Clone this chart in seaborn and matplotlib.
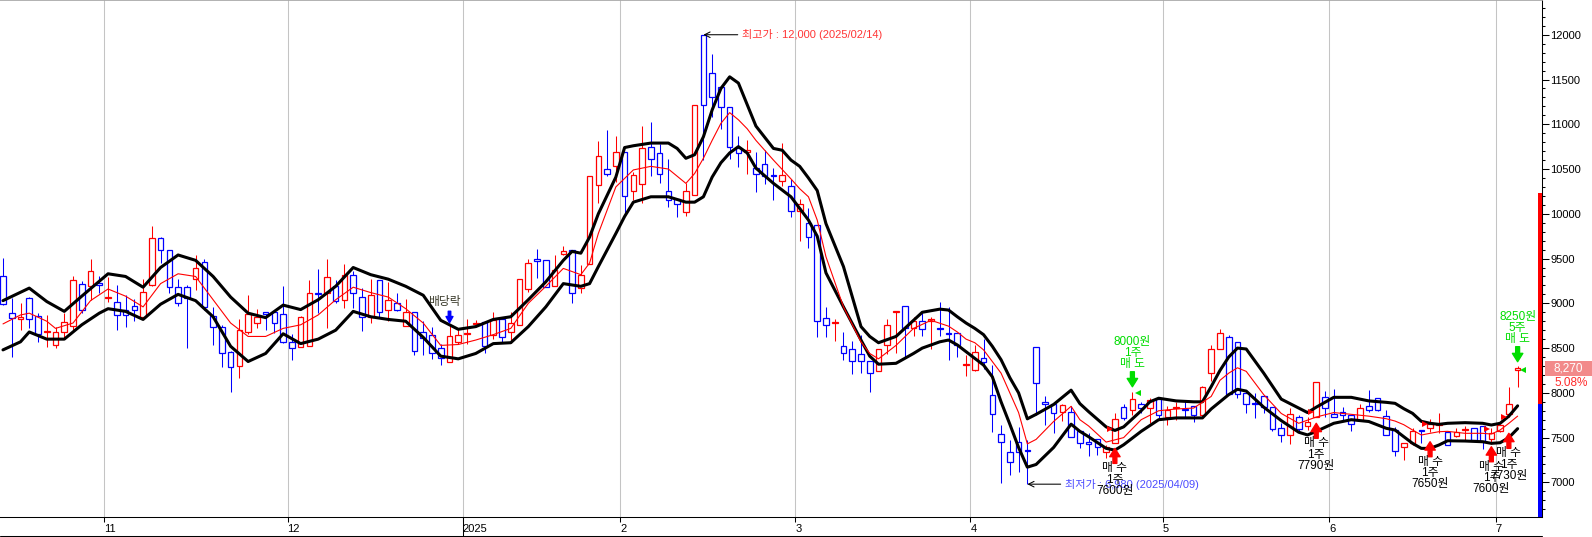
import matplotlib

matplotlib.use("Agg")

import matplotlib.pyplot as plt
import numpy as np
import pandas as pd
import seaborn as sns
from matplotlib.lines import Line2D
from matplotlib.patches import Rectangle

# daily candles, index 0 = 2024/10/16 ... 173 = 2025/07/03
open_ = [
	9300, 8890, 8830, 9055, 8860, 8680, 8530, 8680, 8750, 9220,
	9190, 9230, 9060, 9020, 8930, 8970, 8850, 9210, 9730, 9600,
	9180, 9180, 9270, 9460, 8860, 8730, 8460, 8300, 8680, 8780,
	8900, 8900, 8880, 8570, 8510, 8520, 9110, 9120, 9190, 9040,
	9320, 9070, 8850, 9260, 8930, 9000, 8750, 8900, 8680, 8650,
	8500, 8350, 8570, 8660, 8770, 8790, 8650, 8830, 8680, 8760,
	9160, 9490, 9480, 9190, 9550, 9600, 9170, 9440, 10320, 10500,
	10530, 10690, 10250, 10330, 10750, 10680, 10260, 10160, 10020, 10210,
	12000, 11570, 11420, 11190, 10740, 10690, 10510, 10560, 10430, 10370,
	10310, 10030, 9900, 9870, 8840, 8780, 8520, 8490, 8430, 8360,
	8240, 8540, 8900, 8970, 8720, 8800, 8800, 8720, 8670, 8665,
	8310, 8260, 8390, 7980, 7540, 7340, 7450, 7360, 8510, 7890,
	7880, 7790, 7790, 7570, 7450, 7480, 7340, 7440, 7840, 7810,
	7870, 7830, 7930, 7730, 7830, 7820, 7850, 7750, 8220, 8490,
	8620, 8570, 8000, 7880, 7960, 7840, 7610, 7530, 7730, 7630,
	7730, 7950, 7760, 7790, 7750, 7700, 7850, 7940, 7740, 7590,
	7390, 7445, 7580, 7605, 7640, 7560, 7520, 7580, 7610, 7630,
	7490, 7575, 7760, 8260,
]
high = [
	9510, 9060, 9000, 9070, 8890, 8870, 8740, 8890, 9300, 9250,
	9500, 9300, 9290, 9200, 9090, 9050, 9270, 9860, 9740, 9600,
	9270, 9200, 9540, 9500, 8960, 8760, 8470, 8830, 9090, 8940,
	8900, 8900, 9190, 8660, 8860, 9260, 9380, 9500, 9260, 9440,
	9360, 9170, 9270, 9260, 9240, 9120, 9050, 8900, 8800, 8740,
	8550, 8750, 8720, 8820, 8810, 8790, 8900, 8830, 8900, 9270,
	9490, 9610, 9480, 9540, 9640, 9600, 9430, 10420, 10810, 10940,
	10870, 10690, 10470, 10980, 11020, 10780, 10610, 10160, 10340, 11220,
	12000, 11790, 11420, 11190, 10870, 10820, 10690, 10710, 10510, 10790,
	10390, 10160, 10060, 9870, 8960, 8820, 8680, 8580, 8650, 8360,
	8490, 8830, 8900, 8970, 8850, 8890, 8850, 9010, 8960, 8665,
	8420, 8530, 8600, 8310, 7640, 7470, 7620, 7470, 8510, 7960,
	7900, 7880, 7850, 7570, 7550, 7490, 7420, 7770, 7870, 8010,
	7900, 7940, 7930, 7850, 7900, 7920, 7850, 8080, 8530, 8710,
	8650, 8570, 8000, 8000, 7960, 7840, 7660, 7830, 7750, 7730,
	8120, 8020, 8040, 7840, 7750, 7870, 8030, 7940, 7810, 7620,
	7445, 7605, 7580, 7705, 7780, 7560, 7610, 7630, 7610, 7630,
	7610, 7655, 8070, 8300,
]
low = [
	8980, 8400, 8700, 8720, 8570, 8515, 8500, 8610, 8700, 8890,
	9040, 9110, 9020, 8700, 8730, 8800, 8850, 9190, 9450, 9110,
	8970, 8500, 9150, 8920, 8530, 8290, 8010, 8170, 8660, 8720,
	8700, 8670, 8560, 8370, 8510, 8520, 8890, 8720, 9000, 8950,
	8950, 8690, 8780, 8850, 8800, 8910, 8750, 8420, 8420, 8380,
	8310, 8340, 8550, 8550, 8730, 8450, 8600, 8570, 8560, 8760,
	9130, 9280, 9180, 9190, 9540, 9000, 9120, 9440, 10120, 10420,
	10360, 9990, 10150, 10120, 10420, 10340, 10080, 9960, 9980, 10210,
	10600, 11080, 10950, 10610, 10520, 10450, 10240, 10330, 10150, 10310,
	9960, 9700, 9620, 8620, 8620, 8580, 8370, 8210, 8220, 8010,
	8240, 8430, 8450, 8390, 8630, 8630, 8490, 8640, 8370, 8400,
	8190, 8240, 8270, 7560, 6990, 7080, 7120, 6980, 7750, 7640,
	7550, 7690, 7580, 7380, 7290, 7310, 7270, 7440, 7700, 7750,
	7770, 7660, 7710, 7640, 7700, 7730, 7680, 7750, 8130, 8490,
	7990, 7940, 7780, 7720, 7780, 7570, 7450, 7430, 7550, 7580,
	7730, 7730, 7730, 7700, 7570, 7700, 7790, 7800, 7530, 7290,
	7250, 7415, 7440, 7560, 7548, 7420, 7510, 7470, 7470, 7370,
	7430, 7560, 7730, 8060,
]
close = [
	8990, 8840, 8830, 8830, 8660, 8680, 8680, 8790, 9260, 8930,
	9360, 9200, 9060, 8870, 8870, 8930, 9130, 9730, 9600, 9180,
	9000, 9060, 9390, 8960, 8740, 8440, 8290, 8700, 8880, 8850,
	8880, 8780, 8570, 8500, 8850, 9120, 9100, 9290, 9030, 9320,
	9110, 8850, 9090, 8900, 9040, 8930, 8900, 8470, 8610, 8440,
	8390, 8640, 8650, 8660, 8770, 8520, 8810, 8620, 8780, 9270,
	9450, 9470, 9180, 9370, 9590, 9120, 9320, 10420, 10650, 10440,
	10690, 10200, 10430, 10740, 10610, 10450, 10150, 10110, 10250, 11220,
	11220, 11310, 11190, 10750, 10680, 10710, 10440, 10420, 10420, 10430,
	10030, 10110, 9740, 8800, 8760, 8780, 8450, 8360, 8360, 8220,
	8490, 8760, 8900, 8720, 8800, 8710, 8820, 8710, 8660, 8535,
	8310, 8460, 8340, 7760, 7450, 7230, 7340, 7350, 8110, 7880,
	7780, 7860, 7510, 7440, 7430, 7400, 7390, 7710, 7720, 7930,
	7830, 7920, 7750, 7810, 7830, 7810, 7750, 8060, 8490, 8670,
	7990, 7990, 7870, 7870, 7840, 7600, 7530, 7760, 7600, 7670,
	8120, 7830, 7730, 7750, 7650, 7830, 7810, 7810, 7530, 7350,
	7445, 7575, 7570, 7650, 7650, 7420, 7560, 7590, 7470, 7460,
	7550, 7645, 7870, 8270,
]

# envelope lines (candle index, price)
upper_idx = [
	0, 3, 5, 7, 9, 12, 14, 16, 18, 20, 22, 24, 26, 28, 30, 32, 34, 36, 38, 40,
	42, 44, 46, 48, 50, 52, 54, 56, 58, 60, 62, 64, 65, 66, 67, 68, 70, 71, 72, 74,
	76, 77, 78, 79, 80, 81, 82, 83, 84, 86, 88, 89, 90, 91, 92, 93, 94, 96, 98, 99,
	100, 102, 104, 105, 107, 108, 109, 110, 111, 112, 113, 114, 115, 116, 117, 118, 120, 122, 123, 124,
	126, 127, 128, 130, 131, 132, 134, 136, 137, 138, 139, 140, 141, 142, 144, 146, 148, 149, 150, 152,
	154, 156, 158, 159, 160, 161, 162, 163, 164, 165, 167, 169, 170, 171, 172, 173,
]
upper_val = [
	9030, 9170, 9020, 8910, 9080, 9330, 9300, 9180, 9400, 9540, 9480, 9300, 9070, 8890, 8840, 8980, 8930, 9040, 9190, 9400,
	9320, 9270, 9190, 9090, 8810, 8710, 8740, 8820, 8850, 9040, 9240, 9480, 9580, 9560, 9740, 10000, 10410, 10740, 10760, 10790,
	10790, 10730, 10620, 10660, 10860, 11160, 11400, 11530, 11460, 10980, 10730, 10710, 10600, 10530, 10400, 10260, 9890, 9410, 8740, 8630,
	8560, 8630, 8810, 8900, 8935, 8925, 8850, 8780, 8720, 8650, 8520, 8370, 8170, 8000, 7710, 7760, 7870, 8030, 7880, 7790,
	7620, 7580, 7620, 7800, 7900, 7940, 7910, 7900, 7900, 8070, 8250, 8400, 8500, 8490, 8220, 7930, 7830, 7780, 7840, 7950,
	7950, 7910, 7894, 7883, 7823, 7771, 7682, 7660, 7648, 7660, 7667, 7660, 7641, 7660, 7740, 7855,
]
mid_idx = [
	0, 2, 3, 5, 6, 8, 10, 12, 14, 16, 18, 20, 22, 24, 26, 28, 30, 32, 34, 36,
	38, 40, 42, 44, 46, 48, 50, 52, 54, 56, 58, 60, 62, 64, 66, 67, 68, 70, 72, 74,
	76, 78, 79, 80, 81, 82, 83, 84, 85, 86, 88, 90, 91, 92, 93, 94, 96, 98, 99, 100,
	102, 104, 106, 108, 109, 110, 111, 112, 113, 114, 115, 116, 117, 118, 120, 122, 123, 124, 126, 128,
	130, 132, 134, 136, 138, 139, 140, 141, 142, 144, 146, 148, 150, 152, 154, 156, 158, 159, 160, 161,
	162, 163, 164, 165, 167, 169, 170, 171, 172, 173,
]
mid_val = [
	8770, 8870, 8890, 8800, 8720, 8780, 9030, 9160, 9080, 8960, 9220, 9330, 9300, 9040, 8780, 8630, 8630, 8720, 8760, 8870,
	9040, 9180, 9120, 9070, 8940, 8780, 8530, 8540, 8590, 8650, 8720, 9000, 9190, 9390, 9320, 9450, 9780, 10300, 10490, 10530,
	10500, 10340, 10450, 10620, 10820, 11010, 11130, 11050, 10950, 10820, 10600, 10390, 10280, 10190, 9930, 9520, 8960, 8570, 8440, 8380,
	8530, 8720, 8810, 8745, 8680, 8600, 8560, 8480, 8350, 8220, 8000, 7780, 7430, 7480, 7680, 7850, 7700, 7630, 7450, 7500,
	7700, 7800, 7820, 7830, 7960, 8140, 8220, 8280, 8240, 7980, 7770, 7660, 7730, 7780, 7760, 7740, 7711, 7685, 7644, 7585,
	7529, 7548, 7566, 7570, 7548, 7548, 7540, 7585, 7660, 7740,
]
lower_idx = [
	0, 2, 3, 5, 7, 9, 11, 12, 14, 16, 18, 20, 22, 24, 26, 28, 30, 32, 34, 36,
	38, 40, 42, 44, 46, 48, 50, 52, 54, 56, 58, 60, 62, 64, 66, 67, 68, 70, 71, 72,
	74, 76, 78, 79, 80, 81, 82, 83, 84, 85, 86, 88, 90, 91, 92, 93, 94, 96, 98, 99,
	100, 102, 104, 105, 106, 107, 108, 109, 110, 111, 112, 113, 114, 115, 116, 117, 118, 120, 122, 123,
	124, 126, 127, 128, 130, 132, 134, 136, 137, 138, 140, 141, 142, 144, 146, 148, 149, 150, 152, 154,
	156, 158, 159, 160, 161, 162, 163, 164, 165, 167, 169, 170, 171, 172, 173,
]
lower_val = [
	8480, 8570, 8680, 8600, 8600, 8760, 8890, 8940, 8910, 8820, 8990, 9100, 9030, 8850, 8520, 8350, 8440, 8660, 8550, 8600,
	8700, 8910, 8850, 8820, 8800, 8620, 8410, 8380, 8440, 8550, 8560, 8740, 8960, 9220, 9190, 9220, 9410, 9780, 9970, 10130,
	10190, 10190, 10130, 10130, 10190, 10410, 10570, 10680, 10750, 10680, 10510, 10340, 10190, 10060, 9930, 9750, 9340, 8960, 8590, 8410,
	8320, 8330, 8440, 8500, 8535, 8570, 8590, 8535, 8460, 8385, 8310, 8180, 7900, 7650, 7390, 7170, 7200, 7390, 7650, 7570,
	7510, 7380, 7360, 7420, 7570, 7700, 7720, 7720, 7720, 7820, 7980, 8040, 8020, 7840, 7690, 7560, 7530, 7570, 7660, 7700,
	7680, 7604, 7585, 7510, 7436, 7380, 7380, 7417, 7465, 7462, 7454, 7436, 7443, 7500, 7600,
]

month_first_idx = [12, 33, 53, 71, 91, 111, 133, 152, 171]
month_labels = ["11", "12", "2025", "2", "3", "4", "5", "6", "7"]

# trade signals: candle index, traded price, shares, arrow tip price
buy_idx = [127, 150, 163, 170, 172]
buy_price = [7600, 7790, 7650, 7600, 7730]
buy_qty = [1, 1, 1, 1, 1]
buy_tip = [7380, 7660, 7454, 7398, 7548]
sell_idx = [129, 173]
sell_price = [8000, 8250]
sell_qty = [1, 5]
sell_tip = [8068, 8348]
dividend_idx = 51
dividend_tip = 8783

high_idx, high_price, high_date = 80, 12000, "2025/02/14"
low_idx, low_price, low_date = 117, 6980, "2025/04/09"

prev_close = 7870
limit_up = 10230
limit_down = 5510

PT = 0.72  # points per pixel at 100 dpi
RED = "#ff0000"
BLUE = "#0000ff"
GREEN = "#00dd00"


def _arrow(ax, x, tip, color, direction, length, head_w, head_l, tail_w):
	ax.annotate(
		"",
		xy=(x, tip),
		xytext=(0, -direction * length * PT),
		textcoords="offset points",
		arrowprops=dict(
			arrowstyle=f"simple,head_length={head_l},head_width={head_w},tail_width={tail_w}",
			color=color,
			shrinkA=0,
			shrinkB=0,
			mutation_scale=10,
		),
		zorder=8,
	)


def _label_lines(ax, x, tip, lines, first_px, step_px, color="black"):
	for k, line in enumerate(lines):
		ax.annotate(
			line,
			xy=(x, tip),
			xytext=(0, (first_px + step_px * k) * PT),
			textcoords="offset points",
			ha="center",
			va="center",
			fontsize=8.5,
			color=color,
			zorder=9,
		)


def main():
	df = pd.DataFrame({"open": open_, "high": high, "low": low, "close": close})
	df["idx"] = np.arange(len(df))
	df["up"] = df["close"] >= df["open"]
	colors = np.where(df["up"], RED, BLUE)

	sns.set_theme(style="white")
	plt.rcParams["font.family"] = ["Liberation Sans", "Noto Sans CJK KR", "DejaVu Sans"]
	plt.rcParams["axes.unicode_minus"] = False

	fig = plt.figure(figsize=(15.92, 5.37), dpi=100)
	ax = fig.add_axes([0, 19.7 / 537, 1541.7 / 1592, 517.3 / 537])
	ax.set_facecolor("white")

	# candles: hollow bodies, coloured wicks
	ax.vlines(df["idx"], df["low"], df["high"], colors=colors, lw=0.75, zorder=2)
	body_lo = np.minimum(df["open"], df["close"])
	body_h = np.maximum((df["close"] - df["open"]).abs(), 14)
	ax.bar(
		df["idx"], body_h, bottom=body_lo, width=0.64,
		color="white", edgecolor=colors, linewidth=0.9, zorder=3,
	)

	sns.lineplot(x=upper_idx, y=upper_val, color="black", lw=2.2, ax=ax, zorder=4)
	sns.lineplot(x=lower_idx, y=lower_val, color="black", lw=2.2, ax=ax, zorder=4)
	sns.lineplot(x=mid_idx, y=mid_val, color=RED, lw=0.8, ax=ax, zorder=5)

	ax.set_xlim(-0.3415, 175.75)
	ax.set_ylim(6610, 12388)

	# axes styling
	ax.yaxis.tick_right()
	major = list(range(7000, 12001, 500))
	ax.set_yticks(major)
	ax.set_yticklabels([str(v) for v in major])
	ax.set_yticks(list(range(6700, 12301, 100)), minor=True)
	ax.tick_params(axis="y", which="major", direction="out", length=4.8, width=0.75,
		pad=1.2, labelsize=8, colors="black", right=True, left=False)
	ax.tick_params(axis="y", which="minor", direction="out", length=2.5, width=0.75,
		colors="black", right=True, left=False)

	month_pos = [i - 0.5 for i in month_first_idx]
	ax.set_xticks(month_pos)
	ax.set_xticklabels(month_labels, ha="left")
	ax.tick_params(axis="x", direction="out", length=3.6, width=0.75, pad=1.5,
		labelsize=8, colors="black", bottom=True)
	ax.grid(axis="x", color="#c4c4c4", lw=0.75)
	ax.grid(axis="y", visible=False)
	ax.set_axisbelow(True)

	ax.spines["left"].set_visible(False)
	ax.spines["top"].set_color("#a8a8a8")
	for side in ["right", "bottom"]:
		ax.spines[side].set_color("black")
		ax.spines[side].set_linewidth(0.75)

	# year divider below the axis and the bottom rule
	ax.plot([month_pos[2], month_pos[2]], [-0.04, 0], transform=ax.get_xaxis_transform(),
		clip_on=False, color="black", lw=0.75)
	fig.add_artist(Line2D([0, 1541.7 / 1592], [0.8 / 537, 0.8 / 537], color="black",
		lw=0.75, transform=fig.transFigure))

	# daily price-limit bar on the right edge
	w = 3.4 / 1541.7
	ytr = ax.get_yaxis_transform()
	ax.add_patch(Rectangle((1 - w, prev_close), w, limit_up - prev_close, transform=ytr,
		color=RED, lw=0, zorder=6))
	ax.add_patch(Rectangle((1 - w, limit_down), w, prev_close - limit_down, transform=ytr,
		color=BLUE, lw=0, zorder=6))

	# signals
	for i, p, q, tip in zip(buy_idx, buy_price, buy_qty, buy_tip):
		_arrow(ax, i, tip, RED, +1, 15, 0.75, 0.6, 0.28)
		_label_lines(ax, i, tip, ["매 수", f"{q}주", f"{p}원"], -20, -11.3)
		ax.plot(i - 0.55, p, marker=">", ms=4, color=RED, mew=0, zorder=7)
	for i, p, q, tip in zip(sell_idx, sell_price, sell_qty, sell_tip):
		_arrow(ax, i, tip, GREEN, -1, 15, 0.75, 0.6, 0.28)
		_label_lines(ax, i, tip, ["매 도", f"{q}주", f"{p}원"], 22.5, 11, color=GREEN)
		ax.plot(i + 0.6, p, marker="<", ms=4, color=GREEN, mew=0, zorder=7)

	_arrow(ax, dividend_idx, dividend_tip, BLUE, -1, 11.5, 0.5, 0.45, 0.18)
	ax.annotate("배당락", xy=(dividend_idx, dividend_tip), xytext=(-5 * PT, 21 * PT),
		textcoords="offset points", ha="center", va="center", fontsize=8.5,
		color="#3a3a2a", zorder=9)

	ax.annotate(
		f"최고가 : {high_price:,} ({high_date})",
		xy=(high_idx, high_price), xytext=(39 * PT, 0), textcoords="offset points",
		ha="left", va="center", fontsize=8, color="#ff3535",
		arrowprops=dict(arrowstyle="->,head_length=0.5,head_width=0.25", color="black",
			lw=0.75, shrinkA=1, shrinkB=0),
		zorder=9,
	)
	ax.annotate(
		f"최저가 : {low_price:,} ({low_date})",
		xy=(low_idx, low_price), xytext=(38 * PT, 0), textcoords="offset points",
		ha="left", va="center", fontsize=8, color="#4b4bff",
		arrowprops=dict(arrowstyle="->,head_length=0.5,head_width=0.25", color="black",
			lw=0.75, shrinkA=1, shrinkB=0),
		zorder=8,
	)

	# last price tag outside the axis
	last_close = close[-1]
	fig.canvas.draw()
	yd = ax.transData.transform((0, last_close))[1]
	fig.add_artist(Rectangle((1545 / 1592, (yd - 7.5) / 537), 47 / 1592, 15 / 537,
		transform=fig.transFigure, color="#f28a8a", lw=0))
	fig.text(1568.5 / 1592, yd / 537, f"{last_close:,}", color="white",
		ha="center", va="center", fontsize=8.5)
	change = (last_close / prev_close - 1) * 100
	fig.text(1571.5 / 1592, (yd - 14.5) / 537, f"{change:.2f}%", color="#ff2a2a",
		ha="center", va="center", fontsize=8.5)

	fig.savefig("out.png", dpi=100)
	plt.close(fig)


if __name__ == "__main__":
	main()
